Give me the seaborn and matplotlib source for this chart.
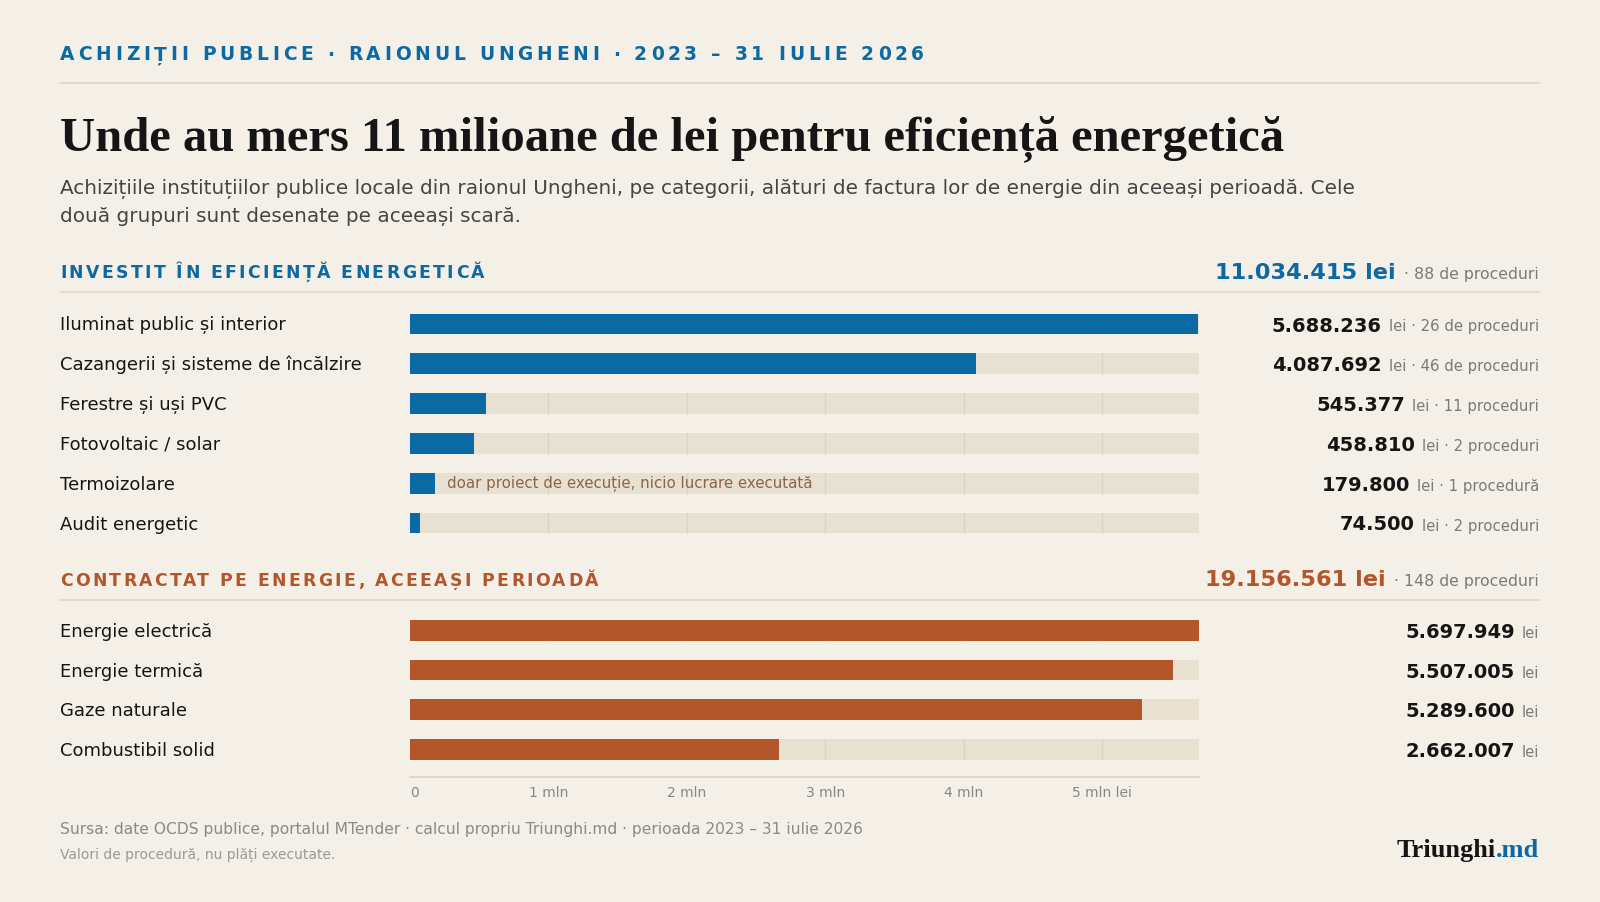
import matplotlib
matplotlib.use("Agg")
import matplotlib.pyplot as plt
import matplotlib.transforms as mtransforms
import pandas as pd
import seaborn as sns

# --- data -------------------------------------------------------------
eff_categories = ["Iluminat public și interior", "Cazangerii și sisteme de încălzire",
                  "Ferestre și uși PVC", "Fotovoltaic / solar", "Termoizolare",
                  "Audit energetic"]
eff_values = [5688236, 4087692, 545377, 458810, 179800, 74500]
eff_procedures = ["26 de proceduri", "46 de proceduri", "11 proceduri",
                  "2 proceduri", "1 procedură", "2 proceduri"]
eff_total = 11034415
eff_total_proc = "88 de proceduri"

energy_categories = ["Energie electrică", "Energie termică", "Gaze naturale",
                     "Combustibil solid"]
energy_values = [5697949, 5507005, 5289600, 2662007]
energy_total = 19156561
energy_total_proc = "148 de proceduri"

tick_values = [0, 1000000, 2000000, 3000000, 4000000, 5000000]
tick_labels = ["0", "1 mln", "2 mln", "3 mln", "4 mln", "5 mln lei"]

note_text = "doar proiect de execuție, nicio lucrare executată"
note_row = "Termoizolare"

# --- style ------------------------------------------------------------
BG = "#f4efe7"
TRACK = "#e8e0d1"
GRID = "#dcd2c0"
RULE = "#ddd7cb"
BLUE = "#0b69a3"
RUST = "#b3562b"
INK = "#151515"
GREY = "#7a7a7a"

sns.set_theme(style="white")
plt.rcParams["font.family"] = ["DejaVu Sans"]

W, H = 1600, 903
fig = plt.figure(figsize=(W / 100, H / 100), dpi=100)
fig.patch.set_facecolor(BG)
renderer = fig.canvas.get_renderer()


def fx(px):
    return px / W


def fy(px):
    return 1 - px / H


def fmt(v):
    return f"{v:,}".replace(",", ".")


def text_w(s, **kw):
    t = fig.text(0, 0, s, **kw)
    w = t.get_window_extent(renderer).width
    t.remove()
    return w


def spaced_text(x_px, y_px, s, target_w, **kw):
    # letter-spaced caps: each glyph right-aligned at the end of its prefix,
    # tracking chosen so the line fills target width
    gap = (target_w - text_w(s, **kw)) / (len(s) - 1)
    for i, ch in enumerate(s):
        if ch == " ":
            continue
        x = x_px + text_w(s[:i + 1], **kw) + i * gap
        fig.text(fx(x), fy(y_px), ch, ha="right", va="baseline", **kw)


def hrule(y_px):
    fig.add_artist(plt.Line2D([fx(60), fx(1539)], [fy(y_px), fy(y_px)],
                              color=RULE, lw=1.2))


def right_pair(x_px, y, trans, strong, light, strong_kw, light_kw, gap=7):
    t = fig.text(fx(x_px), y, light, ha="right", va="baseline",
                 transform=trans, **light_kw)
    w = t.get_window_extent(renderer).width
    fig.text(fx(x_px - w - gap), y, strong, ha="right", va="baseline",
             transform=trans, **strong_kw)


# --- header -----------------------------------------------------------
spaced_text(60, 60.5, "ACHIZIȚII PUBLICE · RAIONUL UNGHENI · 2023 – 31 IULIE 2026",
            864, size=13.4, weight="bold", color=BLUE)
hrule(84)
fig.text(fx(60), fy(150), "Unde au mers 11 milioane de lei pentru eficiență energetică",
         family=["Liberation Serif", "DejaVu Serif"], weight="bold", size=35,
         color=INK, va="baseline")
fig.text(fx(60), fy(194),
         "Achizițiile instituțiilor publice locale din raionul Ungheni, pe categorii, "
         "alături de factura lor de energie din aceeași perioadă. Cele",
         size=14.4, color="#444444", va="baseline")
fig.text(fx(60), fy(222), "două grupuri sunt desenate pe aceeași scară.",
         size=14.4, color="#444444", va="baseline")

xmax = max(max(eff_values), max(energy_values))


def section(ax, cats, vals, color, proc=None):
    n = len(cats)
    df = pd.DataFrame({"cat": cats, "val": vals, "track": [xmax] * n})
    sns.barplot(data=df, x="track", y="cat", orient="h", color=TRACK,
                saturation=1, width=0.52, ax=ax, zorder=1, linewidth=0,
                edgecolor="none")
    for i in range(n):
        ax.vlines(tick_values[1:], i - 0.26, i + 0.26, color=GRID, lw=1, zorder=1.5)
    sns.barplot(data=df, x="val", y="cat", orient="h", color=color,
                saturation=1, width=0.52, ax=ax, zorder=2, linewidth=0,
                edgecolor="none")
    ax.set_xlim(0, xmax)
    ax.set_facecolor("none")
    ax.set_xlabel("")
    ax.set_ylabel("")
    ax.set_yticks([])
    for s in ["top", "right", "left", "bottom"]:
        ax.spines[s].set_visible(False)

    trans = mtransforms.blended_transform_factory(fig.transFigure, ax.transData)
    base = mtransforms.offset_copy(trans, fig, y=-5.5, units="dots")
    vbase = mtransforms.offset_copy(trans, fig, y=-6.5, units="dots")
    for i, (c, v) in enumerate(zip(cats, vals)):
        fig.text(fx(60), i, c, size=13, color=INK, va="baseline", transform=base)
        light = "lei" if proc is None else f"lei · {proc[i]}"
        right_pair(1539, i, vbase, fmt(v), light,
                   dict(size=14, weight="bold", color=INK),
                   dict(size=10.7, color=GREY))


# efficiency section
spaced_text(60, 278, "INVESTIT ÎN EFICIENȚĂ ENERGETICĂ", 424,
            size=12.4, weight="bold", color=BLUE)
right_pair(1539, fy(279), fig.transFigure, f"{fmt(eff_total)} lei", f"· {eff_total_proc}",
           dict(size=16.2, weight="bold", color=BLUE), dict(size=11.3, color=GREY), gap=9)
hrule(293)

row = 39.8
ax1 = fig.add_axes([fx(410), fy(325 + row * 5.5), fx(1199) - fx(410), row * 6 / H])
section(ax1, eff_categories, eff_values, BLUE, eff_procedures)
ax1.set_ylim(5.5, -0.5)
ax1.set_xticks([])
ni = eff_categories.index(note_row)
ax1.text(eff_values[ni] + 88000, ni, note_text, va="center", size=10.8,
         color="#8a6548", zorder=3)

# energy section
spaced_text(60, 586, "CONTRACTAT PE ENERGIE, ACEEAȘI PERIOADĂ", 538,
            size=12.4, weight="bold", color=RUST)
right_pair(1539, fy(586), fig.transFigure, f"{fmt(energy_total)} lei", f"· {energy_total_proc}",
           dict(size=16.2, weight="bold", color=RUST), dict(size=11.3, color=GREY), gap=9)
hrule(600.5)

row2 = 39.7
ax2 = fig.add_axes([fx(410), fy(777.5), fx(1199) - fx(410), row2 * 4.18 / H])
section(ax2, energy_categories, energy_values, RUST)
ax2.set_ylim(3.68, -0.5)
ax2.spines["bottom"].set_visible(True)
ax2.spines["bottom"].set_color("#dcd5c8")
ax2.spines["bottom"].set_linewidth(1.3)
ax2.set_xticks(tick_values)
ax2.set_xticklabels(tick_labels, size=10, color="#888888")
ax2.tick_params(axis="x", length=0, pad=6)
ax2.get_xticklabels()[0].set_ha("left")

# footer
fig.text(fx(60), fy(830),
         "Sursa: date OCDS publice, portalul MTender · calcul propriu Triunghi.md · "
         "perioada 2023 – 31 iulie 2026", size=11.2, color="#8a8a8a", va="center")
fig.text(fx(60), fy(855), "Valori de procedură, nu plăți executate.",
         size=10, color="#9a9a9a", va="center")
md = fig.text(fx(1539), fy(857), ".md", ha="right", va="baseline", size=19,
              weight="bold", color=BLUE, family=["Liberation Serif", "DejaVu Serif"])
mw = md.get_window_extent(renderer).width
fig.text(fx(1539 - mw), fy(857), "Triunghi", ha="right", va="baseline", size=19,
         weight="bold", color=INK, family=["Liberation Serif", "DejaVu Serif"])

fig.savefig("out.png", dpi=100, facecolor=BG)
